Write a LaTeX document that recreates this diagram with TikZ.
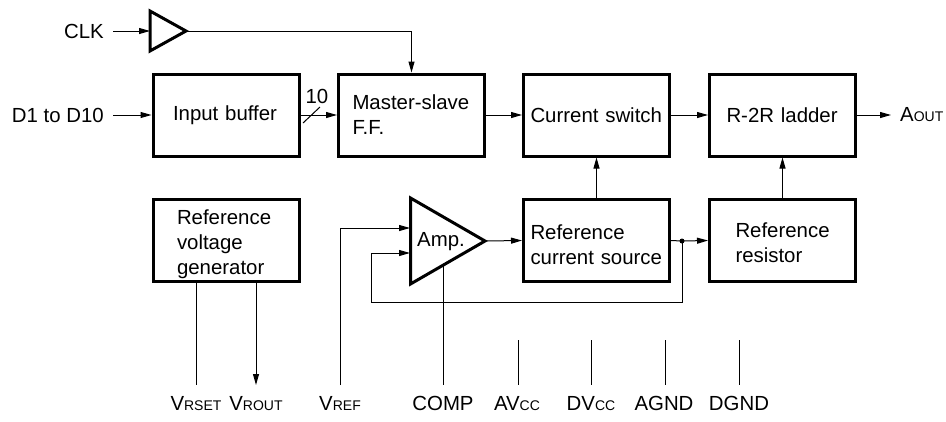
\documentclass[tikz,border=0pt]{standalone}
\usepackage{fontspec}
\setmainfont{Liberation Sans}
\usetikzlibrary{arrows.meta}
\newcommand{\pinname}[2]{#1{\fontsize{14}{16}\selectfont #2}}
\tikzset{
    blockbox/.style={draw, line width=3pt, minimum width=146pt, minimum height=82pt, inner ysep=0pt, align=left, inner xsep=#1, text width=146pt-2*#1},
    blockbox/.default=4pt,
    wire/.style={line width=1pt},
    arrowwire/.style={wire, -{Stealth[length=11pt,width=6pt,inset=0pt]}},
    pinlabel/.style={anchor=base, inner sep=0pt}
}
\begin{document}
\begin{tikzpicture}[x=1pt, y=-1pt, font=\fontsize{20.4}{25}\selectfont]
    \useasboundingbox (0, 0) rectangle (946, 421);

    % Draw blocks of the upper row
    \node[blockbox=20pt] (inbuf) at (226, 115) {Input buffer};
    \node[blockbox=14pt] (latch) at (411.5, 115) {Master-slave\\F.F.};
    \node[blockbox=7pt] (cursw) at (596.5, 115) {Current switch};
    \node[blockbox=17pt] (ladder) at (782.5, 115) {R-2R ladder};

    % Draw blocks of the lower row
    \node[blockbox=24pt] (refvolt) at (226, 240.5) {\rule{0pt}{23pt}Reference\\voltage\\generator};
    \node[blockbox=7pt] (refcur) at (596.5, 240.5) {\rule{0pt}{24pt}Reference\\current source};
    \node[blockbox=26pt] (refres) at (782.5, 240.5) {\rule{0pt}{20pt}Reference\\resistor};

    % Draw the two triangles
    \coordinate (clkin) at (150, 31);
    \coordinate (clktip) at (186, 31);
    \draw[line width=3pt, line join=miter] (150, 11) -- (clktip) -- (150, 51) -- cycle;
    \coordinate (ampplus) at (410, 228);
    \coordinate (ampminus) at (410, 253);
    \coordinate (amptip) at (485, 241);
    \coordinate (ampbase) at (443, 265);
    \draw[line width=3pt, line join=miter] (410.5, 198) -- (amptip) -- (410.5, 284) -- cycle;
    \node[inner sep=0pt] (amptext) at (441, 242) {Amp.};

    % Add labels on the left and on the right
    \node[anchor=east, inner sep=0pt] (clk) at (104, 31) {CLK};
    \node[anchor=east, inner sep=0pt] (din) at (104, 115) {D1 to D10};
    \node[anchor=west, inner sep=0pt] (aout) at (900, 115) {\pinname{A}{OUT}};

    % Add pin labels at the bottom
    \node[pinlabel] (vrset) at (196, 410) {\pinname{V}{RSET}};
    \node[pinlabel] (vrout) at (256, 410) {\pinname{V}{ROUT}};
    \node[pinlabel] (vref) at (340, 410) {\pinname{V}{REF}};
    \node[pinlabel] (comp) at (443, 410) {COMP};
    \node[pinlabel] (avcc) at (517, 410) {\pinname{AV}{CC}};
    \node[pinlabel] (dvcc) at (591, 410) {\pinname{DV}{CC}};
    \node[pinlabel] (agnd) at (664, 410) {AGND};
    \node[pinlabel] (dgnd) at (739, 410) {DGND};

    % Free ends of the wires
    \coordinate (clkstart) at (113, 31);
    \coordinate (dinstart) at (113, 115);
    \coordinate (aoutend) at (891, 115);
    \coordinate (vrsetend) at (196, 385);
    \coordinate (vroutend) at (256, 385);
    \coordinate (vrefend) at (340, 385);
    \coordinate (compend) at (443, 385);
    \coordinate (avcctop) at (518, 340);
    \coordinate (avccend) at (518, 385);
    \coordinate (dvcctop) at (591, 340);
    \coordinate (dvccend) at (591, 385);
    \coordinate (agndtop) at (665, 340);
    \coordinate (agndend) at (665, 385);
    \coordinate (dgndtop) at (739, 340);
    \coordinate (dgndend) at (739, 385);
    \coordinate (junction) at (682, 241);
    \coordinate (fbcorner) at (371, 302);

    % Draw wires of the upper row
    \draw[arrowwire] (clkstart) -- (clkin);
    \draw[arrowwire] (clktip) -| (latch.north);
    \draw[arrowwire] (dinstart) -- (inbuf.west);
    \draw[arrowwire] (inbuf.east) -- (latch.west);
    \draw[arrowwire] (latch.east) -- (cursw.west);
    \draw[arrowwire] (cursw.east) -- (ladder.west);
    \draw[arrowwire] (ladder.east) -- (aoutend);
    \draw[arrowwire] (refcur.north) -- (cursw.south);
    \draw[arrowwire] (refres.north) -- (ladder.south);

    % Slash with the bus width
    \coordinate (slashlow) at (303, 123);
    \coordinate (slashhigh) at (320, 107);
    \draw[wire] (slashlow) -- (slashhigh);
    \node[inner sep=0pt] (buswidth) at (317, 96) {10};

    % Draw wires around the amplifier
    \draw[arrowwire] (vrefend) |- (ampplus);
    \draw[arrowwire] (junction) |- (fbcorner) |- (ampminus);
    \draw[arrowwire] (amptip) -- (refcur.west);
    \draw[wire] (refcur.east) -- (junction);
    \draw[arrowwire] (junction) -- (refres.west);
    \fill (junction) circle (2.5);
    \draw[wire] (ampbase) -- (compend);

    % Draw wires down to the pins
    \draw[wire] (refvolt.south -| vrsetend) -- (vrsetend);
    \draw[arrowwire] (refvolt.south -| vroutend) -- (vroutend);
    \draw[wire] (avcctop) -- (avccend);
    \draw[wire] (dvcctop) -- (dvccend);
    \draw[wire] (agndtop) -- (agndend);
    \draw[wire] (dgndtop) -- (dgndend);

\end{tikzpicture}
\end{document}
